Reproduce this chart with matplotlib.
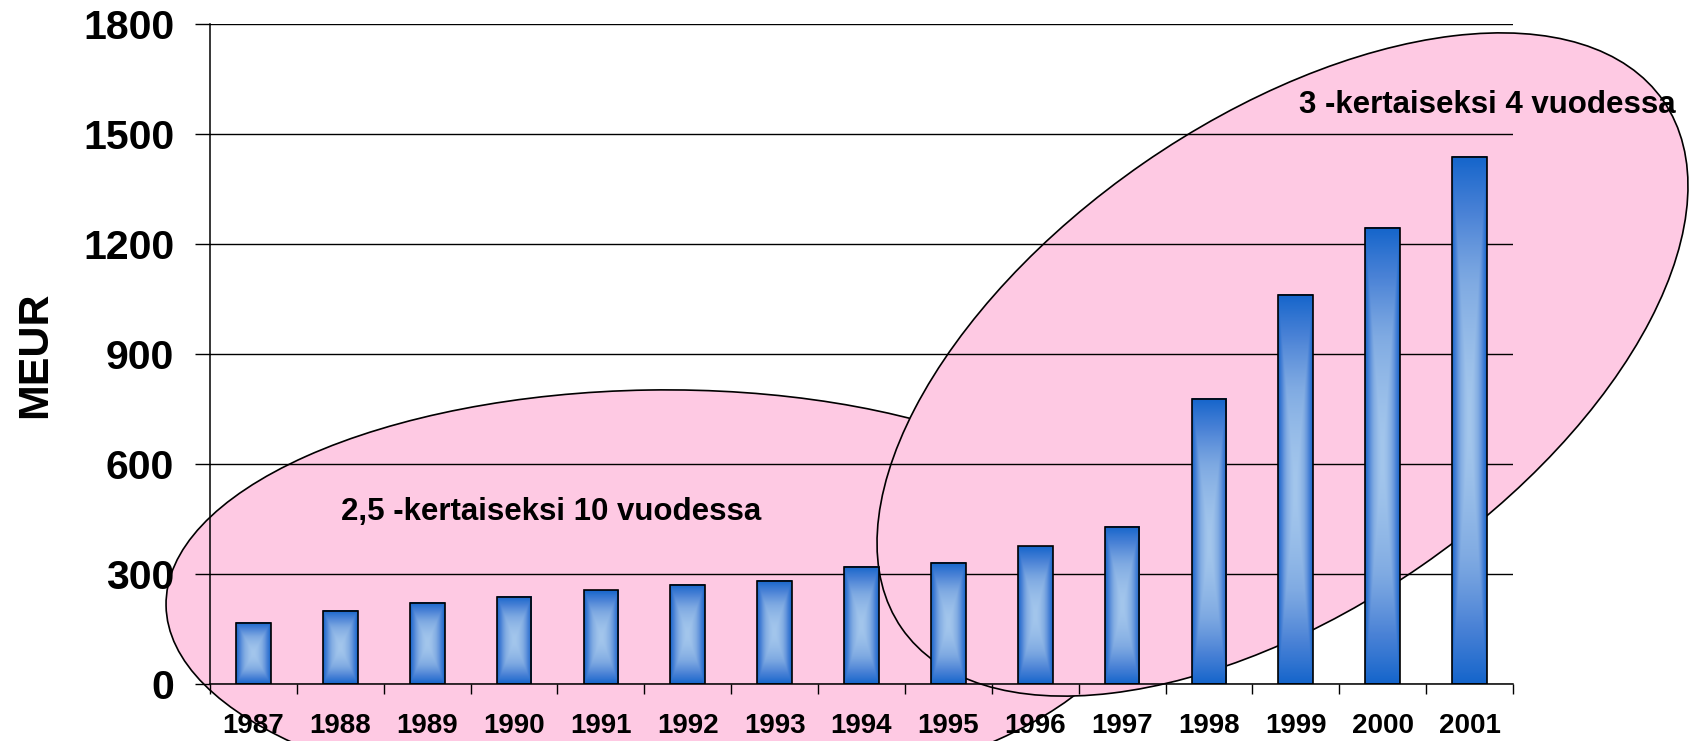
import numpy as np
import matplotlib.pyplot as plt
from matplotlib.patches import Ellipse
from matplotlib.colors import LinearSegmentedColormap

plt.rcParams['font.family'] = ['Liberation Sans', 'DejaVu Sans']
plt.rcParams['font.weight'] = 'bold'

# data
years = ['1987', '1988', '1989', '1990', '1991', '1992', '1993', '1994',
         '1995', '1996', '1997', '1998', '1999', '2000', '2001']
meur = [168, 201, 223, 239, 256, 271, 283, 320, 332, 376, 430, 778, 1062, 1244, 1439]
yticks = [0, 300, 600, 900, 1200, 1500, 1800]
note_left = '2,5 -kertaiseksi 10 vuodessa'
note_right = '3 -kertaiseksi 4 vuodessa'

W, H = 1695, 741
fig = plt.figure(figsize=(W / 100, H / 100), dpi=100)
ax = fig.add_axes([210 / W, 1 - 684.3 / H, 1303 / W, 660 / H])
ax.set_axisbelow(True)

pink = '#FEC9E3'
# the two highlight ellipses, placed in figure inches (1 in = 100 px)
e1 = Ellipse((6.52, 1.43), 9.72, 4.16, angle=0.9, transform=fig.dpi_scale_trans,
             facecolor=pink, edgecolor='black', linewidth=1.2, clip_on=False, zorder=0.2)
e2 = Ellipse((12.825, 3.765), 9.264, 4.892, angle=34.7, transform=fig.dpi_scale_trans,
             facecolor=pink, edgecolor='black', linewidth=1.2, clip_on=False, zorder=0.3)
ax.add_artist(e1)
ax.add_artist(e2)

x = np.arange(len(years))
bars = ax.bar(x, meur, width=0.4, facecolor='none', edgecolor='black',
              linewidth=1.2, zorder=3)

# rectangular "from centre" gradient for the bars
cmap = LinearSegmentedColormap.from_list('barblue', ['#A3C6EC', '#7FAAE2', '#4A82D6', '#1565CB'])
u = np.abs(np.linspace(-1, 1, 60))
v = np.abs(np.linspace(-1, 1, 200))
grad = np.maximum(u[None, :], v[:, None]) ** 1.7
for b in bars:
    x0, w, h = b.get_x(), b.get_width(), b.get_height()
    ax.imshow(grad, cmap=cmap, vmin=0, vmax=1, extent=[x0, x0 + w, 0, h],
              aspect='auto', interpolation='bilinear', zorder=2)

ax.set_xlim(-0.5, len(years) - 0.5)
ax.set_ylim(0, 1800)
ax.set_yticks(yticks)
ax.set_xticks(x)
ax.set_xticklabels(years)
ax.set_xticks(np.arange(-0.5, len(years), 1), minor=True)

ax.grid(axis='y', color='black', linewidth=1.0)
ax.tick_params(axis='y', length=10.8, width=1.0, pad=15, labelsize=29.5)
ax.tick_params(axis='x', which='major', length=0, pad=21, labelsize=20)
ax.tick_params(axis='x', which='minor', length=7.5, width=1.0)

for s in ['top', 'right']:
    ax.spines[s].set_visible(False)
for s in ['left', 'bottom']:
    ax.spines[s].set_linewidth(1.1)

fig.text(35 / W, 1 - 355 / H, 'MEUR', rotation=90, fontsize=31,
         ha='center', va='center')
fig.text(551 / W, 1 - 512 / H, note_left, fontsize=22.5, ha='center', va='center')
fig.text(1487.5 / W, 1 - 105 / H, note_right, fontsize=22.5, ha='center', va='center')

fig.savefig('out.png', dpi=100)
